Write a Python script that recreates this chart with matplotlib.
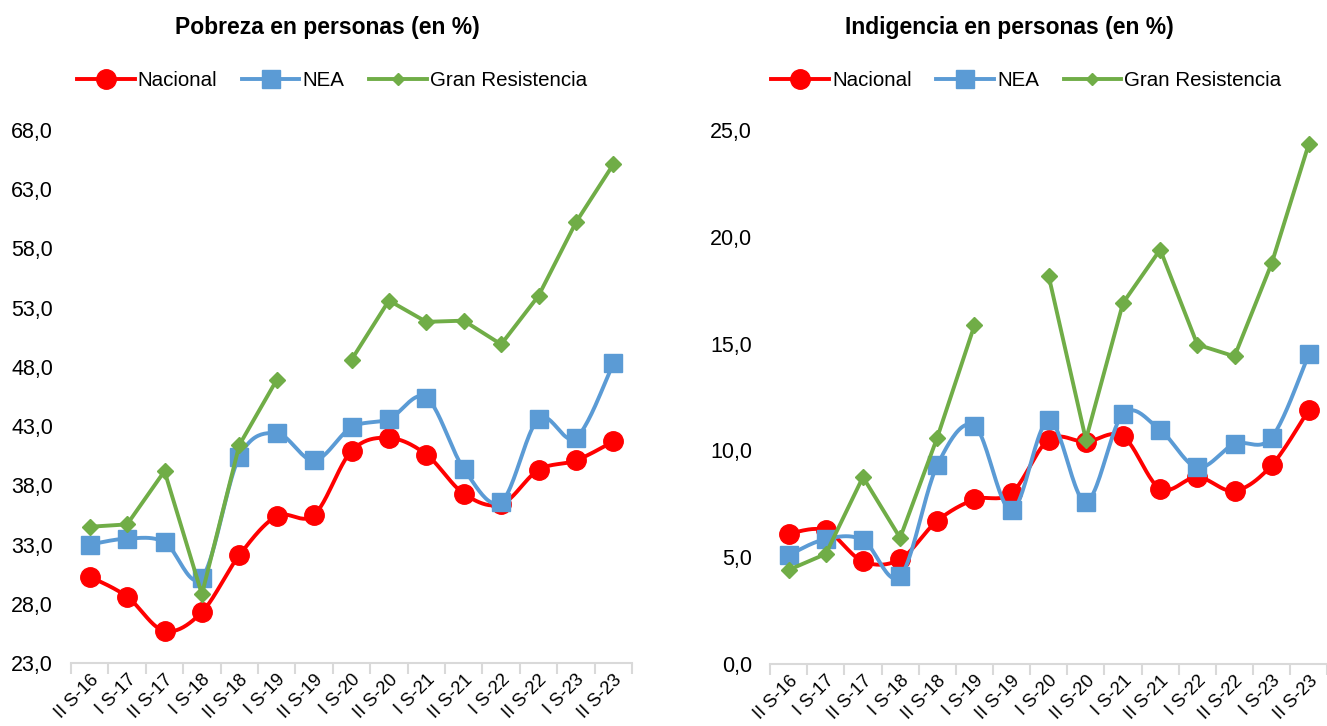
import numpy as np
import matplotlib.pyplot as plt
from matplotlib.lines import Line2D
from matplotlib.ticker import FuncFormatter

plt.rcParams['font.family'] = ['Liberation Sans', 'DejaVu Sans']

periodos = ['II S-16', 'I S-17', 'II S-17', 'I S-18', 'II S-18', 'I S-19', 'II S-19',
            'I S-20', 'II S-20', 'I S-21', 'II S-21', 'I S-22', 'II S-22', 'I S-23', 'II S-23']

# Pobreza (%)
pob_nacional = [30.3, 28.6, 25.7, 27.3, 32.1, 35.4, 35.5, 40.9, 42.0, 40.6, 37.3, 36.4, 39.3, 40.1, 41.7]
pob_nea = [33.0, 33.5, 33.2, 30.2, 40.4, 42.4, 40.1, 42.9, 43.6, 45.4, 39.4, 36.6, 43.6, 42.0, 48.3]
pob_gr = [34.5, 34.7, 39.2, 28.8, 41.4, 46.9, np.nan, 48.6, 53.6, 51.8, 51.9, 49.9, 54.0, 60.2, 65.1]

# Indigencia (%)
ind_nacional = [6.1, 6.25, 4.8, 4.9, 6.7, 7.7, 8.0, 10.5, 10.4, 10.65, 8.2, 8.75, 8.1, 9.3, 11.9]
ind_nea = [5.1, 5.85, 5.8, 4.1, 9.3, 11.15, 7.2, 11.4, 7.6, 11.7, 10.95, 9.2, 10.3, 10.6, 14.5]
ind_gr = [4.4, 5.15, 8.75, 5.9, 10.6, 15.85, np.nan, 18.15, 10.5, 16.9, 19.4, 14.95, 14.4, 18.75, 24.35]

ROJO = '#FF0000'
AZUL = '#5B9BD5'
VERDE = '#70AD47'


def suave(y):
    '''Linea suavizada tipo Excel (Bezier) que pasa por los puntos.'''
    y = np.asarray(y, float)
    x = np.arange(len(y), dtype=float)
    pts = np.column_stack([x, y])
    xs, ys = [], []
    t = np.linspace(0, 1, 25)[:, None]
    for i in range(len(y) - 1):
        p0, p1 = pts[i], pts[i + 1]
        pa = pts[max(i - 1, 0)]
        pb = pts[min(i + 2, len(y) - 1)]
        c1 = p0 + (p1 - pa) / 6
        c2 = p1 - (pb - p0) / 6
        b = (1 - t)**3 * p0 + 3 * (1 - t)**2 * t * c1 + 3 * (1 - t) * t**2 * c2 + t**3 * p1
        xs.extend(b[:, 0])
        ys.extend(b[:, 1])
    return xs, ys


def panel(ax, nac, nea, gr, ymin, ymax, titulo_x, titulo, ley_x):
    x = np.arange(len(periodos))
    sx, sy = suave(nac)
    ax.plot(sx, sy, color=ROJO, lw=2.8, zorder=2)
    ax.plot(x, nac, 'o', color=ROJO, ms=14, zorder=2)
    sx, sy = suave(nea)
    ax.plot(sx, sy, color=AZUL, lw=2.8, zorder=3)
    ax.plot(x, nea, 's', color=AZUL, ms=12.5, zorder=3)
    ax.plot(x, gr, '-D', color=VERDE, lw=2.8, ms=8.5, zorder=4)

    ax.set_xlim(-0.5, len(periodos) - 0.5)
    ax.set_ylim(ymin, ymax)
    ax.set_yticks(np.arange(ymin, ymax + 0.1, 5))
    ax.yaxis.set_major_formatter(FuncFormatter(lambda v, p: f'{v:.1f}'.replace('.', ',')))
    ax.set_xticks(x)
    ax.set_xticklabels(periodos, rotation=45, ha='right', rotation_mode='anchor')
    ax.set_xticks(np.arange(-0.5, len(periodos), 1), minor=True)
    ax.tick_params(axis='x', which='major', length=0, labelsize=13.2, pad=6)
    ax.tick_params(axis='x', which='minor', length=8, color='#D9D9D9', width=1.5)
    ax.tick_params(axis='y', length=0, labelsize=15.5, pad=13)
    for lado in ['top', 'right', 'left']:
        ax.spines[lado].set_visible(False)
    ax.spines['bottom'].set_color('#D9D9D9')
    ax.spines['bottom'].set_linewidth(1.5)

    fig.text(titulo_x, 0.962, titulo, ha='center', va='center', fontsize=16.5, fontweight='bold')
    manejadores = [
        Line2D([], [], color=ROJO, lw=2.8, marker='o', ms=14),
        Line2D([], [], color=AZUL, lw=2.8, marker='s', ms=12.5),
        Line2D([], [], color=VERDE, lw=2.8, marker='D', ms=6),
    ]
    ax.legend(manejadores, ['Nacional', 'NEA', 'Gran Resistencia'], ncol=3, frameon=False,
              loc='center', bbox_to_anchor=(ley_x, 1.093), fontsize=14.8,
              handlelength=2.8, handletextpad=0.15, columnspacing=1.2)


fig = plt.figure(figsize=(13.27, 7.26), dpi=100)
ax1 = fig.add_axes([0.0535, 0.0868, 0.4228, 0.7342])
ax2 = fig.add_axes([0.5803, 0.0855, 0.4200, 0.7355])

panel(ax1, pob_nacional, pob_nea, pob_gr, 23, 68, 0.2465, 'Pobreza en personas (en %)', 0.465)
panel(ax2, ind_nacional, ind_nea, ind_gr, 0, 25, 0.761, 'Indigencia en personas (en %)', 0.46)

plt.savefig('out.png', dpi=100)
